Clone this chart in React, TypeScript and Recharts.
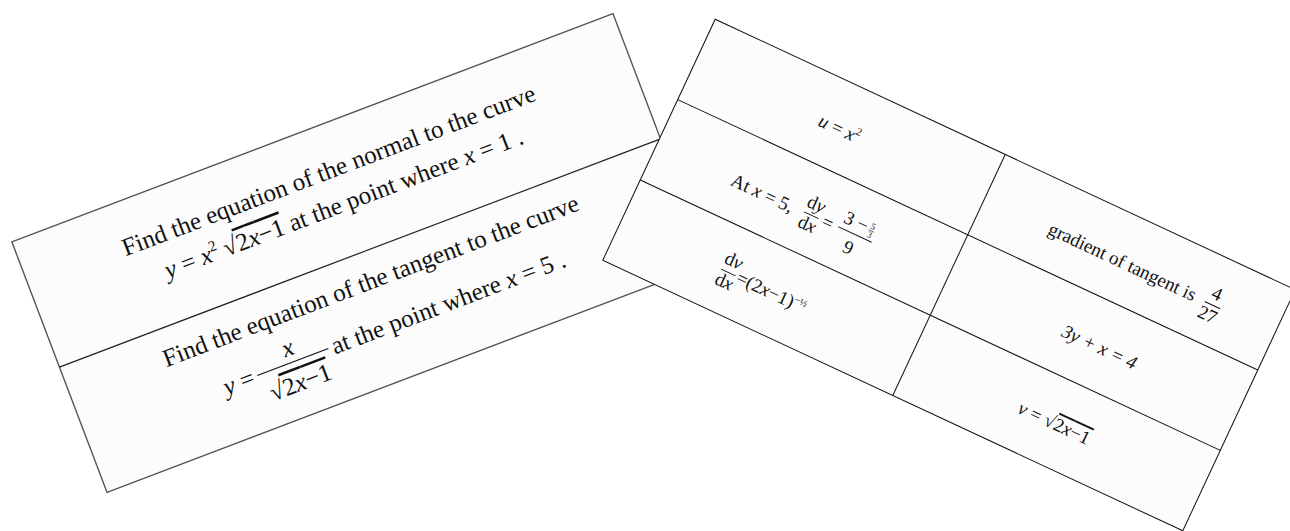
import React from 'react';
import { ScatterChart, Scatter, XAxis, YAxis } from 'recharts';

const WIDTH = 1290;
const HEIGHT = 531;

// each card is one point: its centre on the page
const cardIds = ['questions', 'answers'];
const cardCentreX = [360, 949];
const cardCentreY = [253, 275];

// card text
const questionLines = [
  'Find the equation of the normal to the curve',
  'Find the equation of the tangent to the curve',
];
const questionPoints = ['1', '5'];
const gradientLabel = 'gradient of tangent is';
const gradientValue = ['4', '27'];

const cards = cardIds.map((id, i) => ({ id, x: cardCentreX[i], y: cardCentreY[i] }));

const serif = "'Liberation Serif', 'Times New Roman', serif";
const ink = '#111';

const layout = {
  questions: { w: 643, h: 268, angle: -20.8 },
  answers: { w: 640, h: 266, angle: 25 },
};

const I = ({ children }) => <tspan fontStyle="italic">{children}</tspan>;
const Over = ({ children }) => <tspan style={{ textDecoration: 'overline' }}>{children}</tspan>;

const QuestionCard = ({ w, h }) => (
  <g>
    <rect x={0} y={0} width={w} height={h} fill="#fcfcfc" stroke="#555" strokeWidth={1.4} />
    <line x1={0} y1={h / 2} x2={w} y2={h / 2} stroke="#222" strokeWidth={1.2} />
    <g fontFamily={serif} fontSize={25} fill={ink}>
      <text x={321.5} y={54} textAnchor="middle">{questionLines[0]}</text>
      <text x={324} y={90} textAnchor="middle">
        <I>y</I> = <I>x</I><tspan fontSize={15} dy={-10}>2</tspan><tspan dy={10}> √</tspan><Over>2<I>x</I>−1</Over> at the point where <I>x</I> = {questionPoints[0]} .
      </text>

      <text x={321.5} y={172} textAnchor="middle">{questionLines[1]}</text>
      <text x={178} y={220} textAnchor="end"><I>y</I> =</text>
      <line x1={182} y1={212} x2={258} y2={212} stroke={ink} strokeWidth={1.2} />
      <text x={220} y={205} textAnchor="middle"><I>x</I></text>
      <text x={220} y={242} textAnchor="middle">√<Over>2<I>x</I>−1</Over></text>
      <text x={262} y={220}>at the point where <I>x</I> = {questionPoints[1]} .</text>
    </g>
  </g>
);

const AnswerCard = ({ w, h }) => (
  <g>
    <rect x={0} y={0} width={w} height={h} fill="#fcfcfc" stroke="#111" strokeWidth={1} />
    <line x1={w / 2} y1={0} x2={w / 2} y2={h} stroke="#111" strokeWidth={1} />
    <line x1={0} y1={h / 3} x2={w} y2={h / 3} stroke="#111" strokeWidth={1} />
    <line x1={0} y1={(2 * h) / 3} x2={w} y2={(2 * h) / 3} stroke="#111" strokeWidth={1} />
    <g fontFamily={serif} fontSize={19} fill={ink}>
      {/* row 1 */}
      <text x={159} y={53} textAnchor="middle">
        <I>u</I> = <I>x</I><tspan fontSize={11} dy={-8}>2</tspan>
      </text>
      <text x={552} y={54} textAnchor="end">{gradientLabel}</text>
      <text x={571} y={43} textAnchor="middle">{gradientValue[0]}</text>
      <line x1={563} y1={49} x2={580} y2={49} stroke={ink} strokeWidth={1} />
      <text x={571} y={66} textAnchor="middle">{gradientValue[1]}</text>

      {/* row 2 */}
      <text x={83} y={144}>At <I>x</I> = 5,</text>
      <text x={170} y={131} textAnchor="middle">d<I>y</I></text>
      <line x1={162} y1={137} x2={178} y2={137} stroke={ink} strokeWidth={1} />
      <text x={170} y={153} textAnchor="middle">d<I>x</I></text>
      <text x={188} y={143} textAnchor="middle">=</text>
      <line x1={199} y1={136} x2={236} y2={136} stroke={ink} strokeWidth={1} />
      <text x={201} y={130}>3 −</text>
      <text x={231} y={124} fontSize={9} textAnchor="middle">5</text>
      <line x1={228} y1={126} x2={234} y2={126} stroke={ink} strokeWidth={0.6} />
      <text x={231} y={133} fontSize={9} textAnchor="middle">3</text>
      <text x={217} y={157} textAnchor="middle">9</text>
      <text x={487} y={141} textAnchor="middle" fontStyle="italic">3y + x = 4</text>

      {/* row 3 */}
      <text x={119} y={217} textAnchor="middle">d<I>v</I></text>
      <line x1={111} y1={224} x2={127} y2={224} stroke={ink} strokeWidth={1} />
      <text x={119} y={240} textAnchor="middle">d<I>x</I></text>
      <text x={129} y={230}>
        =(2<I>x</I>−1)<tspan fontSize={10} dy={-7}>−½</tspan>
      </text>
      <text x={478} y={229} textAnchor="middle">
        <I>v</I> = √<Over>2<I>x</I>−1</Over>
      </text>
    </g>
  </g>
);

const renderCard = (props) => {
  const { cx, cy, payload } = props;
  const { w, h, angle } = layout[payload.id];
  return (
    <g transform={`translate(${cx},${cy}) rotate(${angle}) translate(${-w / 2},${-h / 2})`}>
      {payload.id === 'questions' ? <QuestionCard w={w} h={h} /> : <AnswerCard w={w} h={h} />}
    </g>
  );
};

export default function App() {
  return (
    <div style={{ position: 'absolute', left: 0, top: 0, width: WIDTH, height: HEIGHT, background: '#fff' }}>
      <ScatterChart width={WIDTH} height={HEIGHT} margin={{ top: 0, right: 0, bottom: 0, left: 0 }}>
        <XAxis type="number" dataKey="x" domain={[0, WIDTH]} hide />
        <YAxis type="number" dataKey="y" domain={[0, HEIGHT]} reversed hide />
        <Scatter data={cards} shape={renderCard} isAnimationActive={false} />
      </ScatterChart>
    </div>
  );
}
